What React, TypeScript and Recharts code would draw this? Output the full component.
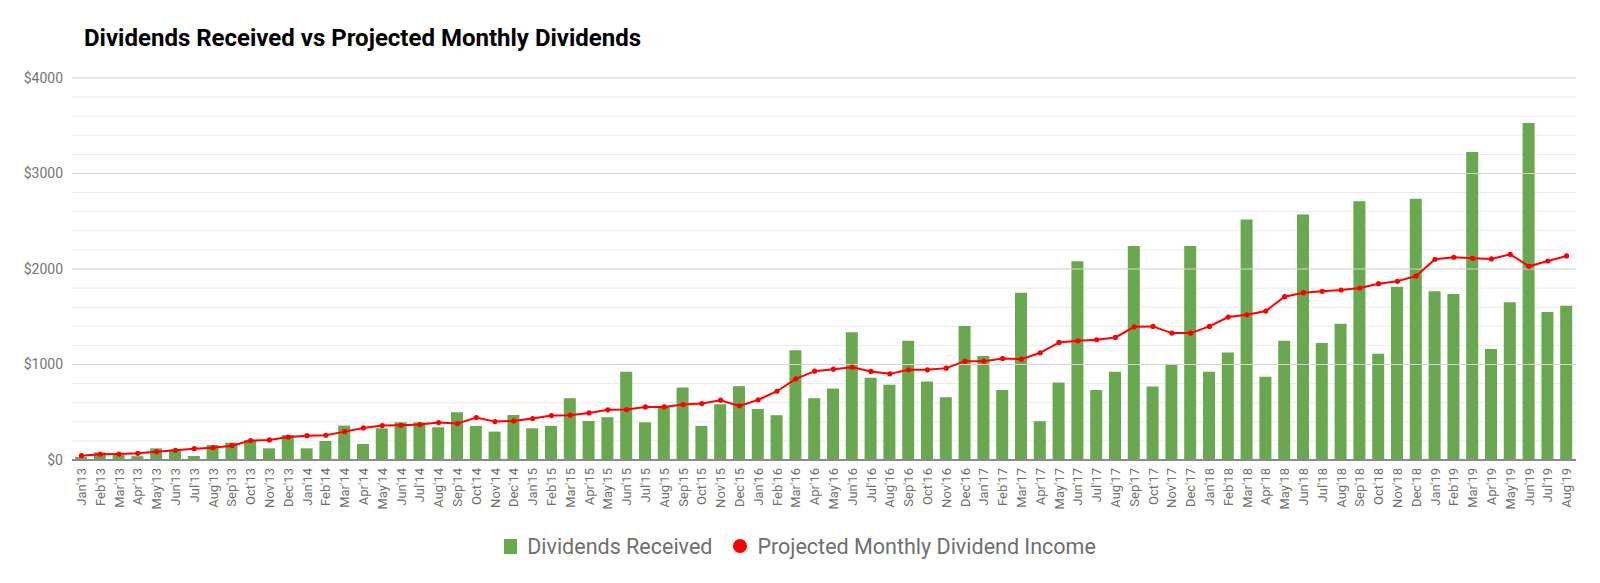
import React from 'react';
import { ComposedChart, Bar, Line, XAxis, YAxis, CartesianGrid, ReferenceLine, Legend } from 'recharts';

const months: string[] = [
  "Jan'13","Feb'13","Mar'13","Apr'13","May'13","Jun'13","Jul'13","Aug'13","Sep'13","Oct'13","Nov'13","Dec'13",
  "Jan'14","Feb'14","Mar'14","Apr'14","May'14","Jun'14","Jul'14","Aug'14","Sep'14","Oct'14","Nov'14","Dec'14",
  "Jan'15","Feb'15","Mar'15","Apr'15","May'15","Jun'15","Jul'15","Aug'15","Sep'15","Oct'15","Nov'15","Dec'15",
  "Jan'16","Feb'16","Mar'16","Apr'16","May'16","Jun'16","Jul'16","Aug'16","Sep'16","Oct'16","Nov'16","Dec'16",
  "Jan'17","Feb'17","Mar'17","Apr'17","May'17","Jun'17","Jul'17","Aug'17","Sep'17","Oct'17","Nov'17","Dec'17",
  "Jan'18","Feb'18","Mar'18","Apr'18","May'18","Jun'18","Jul'18","Aug'18","Sep'18","Oct'18","Nov'18","Dec'18",
  "Jan'19","Feb'19","Mar'19","Apr'19","May'19","Jun'19","Jul'19","Aug'19",
];

const dividendsReceived: number[] = [
  30, 80, 52, 40, 122, 112, 42, 157, 182, 210, 122, 262,
  122, 199, 360, 168, 332, 395, 395, 343, 500, 357, 297, 472,
  332, 357, 647, 409, 448, 923, 395, 560, 759, 357, 584, 773,
  535, 469, 1150, 647, 748, 1339, 860, 787, 1248, 822, 657, 1402,
  1088, 734, 1752, 406, 811, 2081, 734, 923, 2242, 769, 997, 2242,
  923, 1126, 2518, 871, 1248, 2570, 1224, 1427, 2710, 1112, 1815, 2735,
  1766, 1738, 3224, 1161, 1651, 3528, 1549, 1616,
];

const projectedMonthly: number[] = [
  45, 60, 63, 70, 87, 101, 119, 129, 150, 203, 210, 241,
  255, 259, 297, 336, 360, 364, 371, 392, 381, 444, 402, 409,
  434, 465, 469, 493, 525, 528, 556, 556, 580, 591, 626, 567,
  630, 720, 850, 930, 951, 972, 927, 902, 944, 944, 962, 1035,
  1035, 1063, 1056, 1123, 1231, 1248, 1259, 1283, 1395, 1399, 1329, 1329,
  1399, 1497, 1521, 1560, 1710, 1752, 1766, 1780, 1801, 1846, 1871, 1927,
  2102, 2123, 2112, 2105, 2154, 2028, 2084, 2137,
];

const yTicks: number[] = [0, 200, 400, 600, 800, 1000, 1200, 1400, 1600, 1800, 2000, 2200, 2400, 2600, 2800, 3000, 3200, 3400, 3600, 3800, 4000];
const majorTicks: number[] = [1000, 2000, 3000, 4000];

const chartTitle = 'Dividends Received vs Projected Monthly Dividends';
const seriesNames = ['Dividends Received', 'Projected Monthly Dividend Income'];

const data = months.map((m, i) => ({
  month: m,
  received: dividendsReceived[i],
  projected: projectedMonthly[i],
}));

const FONT = 'Roboto, "Noto Sans", Arial, sans-serif';
const GREEN = '#6aa84f';
const RED = '#ff0000';

const XTick = (props: any) => {
  const { x, y, payload } = props;
  return (
    <text
      x={x}
      y={y}
      transform={`rotate(-90, ${x}, ${y})`}
      textAnchor="end"
      dy="0.35em"
      fontSize={13}
      fill="#6f6f6f"
      fontFamily={FONT}
    >
      {payload.value}
    </text>
  );
};

const LegendContent = () => (
  <div style={{ display: 'flex', justifyContent: 'center', alignItems: 'center', height: 26, fontFamily: FONT, fontSize: 21.5, color: '#6f6f6f', whiteSpace: 'nowrap' }}>
    <span style={{ display: 'inline-block', width: 13, height: 15, background: GREEN, marginRight: 10 }} />
    <span>{seriesNames[0]}</span>
    <span style={{ display: 'inline-block', width: 14, height: 14, borderRadius: 7, background: RED, marginLeft: 21, marginRight: 10 }} />
    <span>{seriesNames[1]}</span>
  </div>
);

export default function App() {
  return (
    <div style={{ position: 'absolute', left: 0, top: 0, width: 1600, height: 583, background: '#fff' }}>
      <div style={{ position: 'absolute', left: 84, top: 23, fontFamily: FONT, fontWeight: 700, fontSize: 24, lineHeight: '30px', color: '#000', whiteSpace: 'nowrap' }}>
        {chartTitle}
      </div>
      <ComposedChart
        width={1600}
        height={583}
        data={data}
        margin={{ top: 78, right: 24, left: 0, bottom: 21 }}
        barCategoryGap={0}
      >
        <CartesianGrid vertical={false} stroke="#ebebeb" />
        {majorTicks.map((t) => (
          <ReferenceLine key={t} y={t} stroke="#d4d4d4" strokeWidth={1.2} />
        ))}
        <XAxis
          dataKey="month"
          interval={0}
          tick={<XTick />}
          tickLine={false}
          axisLine={{ stroke: '#8a8a8a', strokeWidth: 2 }}
          height={76}
          tickSize={6}
          tickMargin={2}
        />
        <YAxis
          width={72}
          domain={[0, 4000]}
          ticks={yTicks}
          interval={0}
          tickLine={false}
          axisLine={false}
          tickSize={0}
          tickMargin={9}
          tickFormatter={(v: number) => (v % 1000 === 0 ? `$${v}` : '')}
          tick={{ fontSize: 14, fill: '#757575', fontFamily: FONT }}
        />
        <Legend
          verticalAlign="bottom"
          content={<LegendContent />}
          wrapperStyle={{ left: 0, width: 1600, bottom: 24 }}
        />
        <Bar dataKey="received" name={seriesNames[0]} fill={GREEN} barSize={12} isAnimationActive={false} />
        <Line
          type="linear"
          dataKey="projected"
          name={seriesNames[1]}
          stroke={RED}
          strokeWidth={2}
          dot={{ r: 2.6, fill: RED, stroke: RED, strokeWidth: 0 }}
          activeDot={false}
          isAnimationActive={false}
        />
      </ComposedChart>
    </div>
  );
}
